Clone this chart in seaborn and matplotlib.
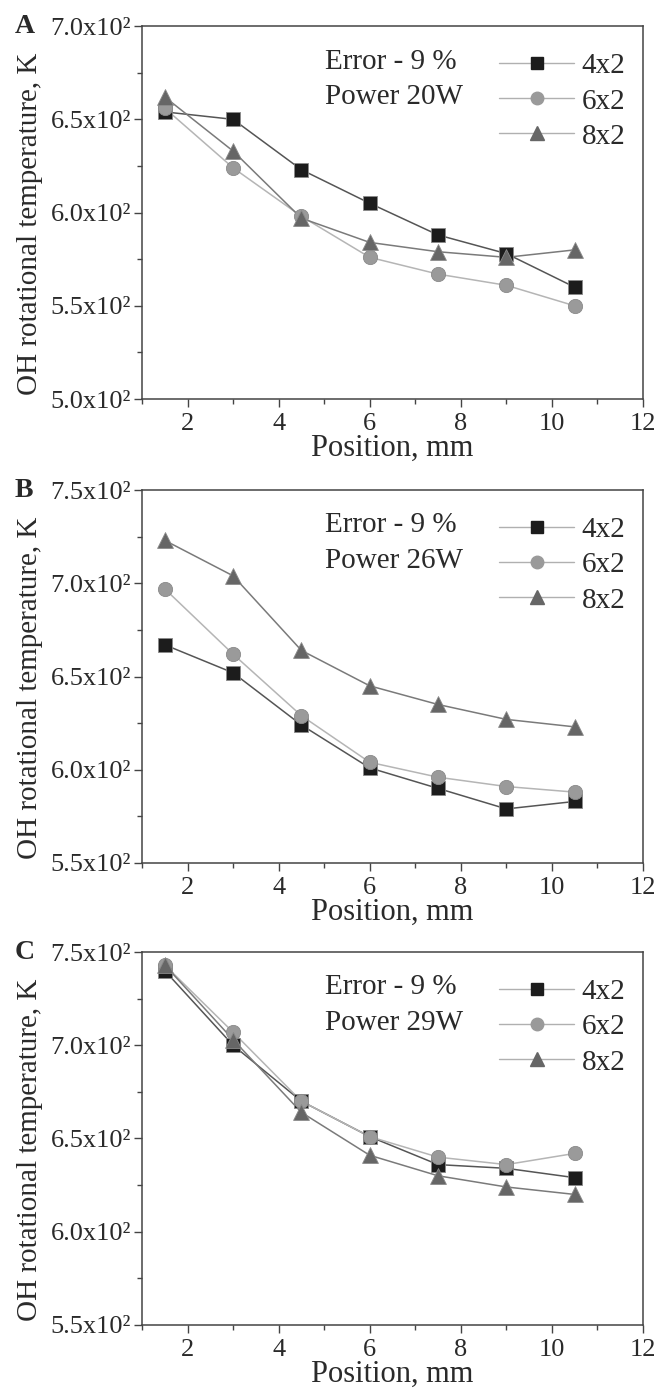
import matplotlib
matplotlib.use("Agg")
import matplotlib.pyplot as plt
from matplotlib.ticker import FuncFormatter, MultipleLocator
import seaborn as sns
import pandas as pd

positions = [1.5, 3.0, 4.5, 6.0, 7.5, 9.0, 10.5]
series_names = ["4x2", "6x2", "8x2"]

# panel A, power 20 W
temp_a_4x2 = [654, 650, 623, 605, 588, 578, 560]
temp_a_6x2 = [656, 624, 598, 576, 567, 561, 550]
temp_a_8x2 = [662, 633, 597, 584, 579, 576, 580]

# panel B, power 26 W
temp_b_4x2 = [667, 652, 624, 601, 590, 579, 583]
temp_b_6x2 = [697, 662, 629, 604, 596, 591, 588]
temp_b_8x2 = [723, 704, 664, 645, 635, 627, 623]

# panel C, power 29 W
temp_c_4x2 = [740, 700, 670, 651, 636, 634, 629]
temp_c_6x2 = [743, 707, 670, 651, 640, 636, 642]
temp_c_8x2 = [743, 703, 664, 641, 630, 624, 620]

panel_letters = ["A", "B", "C"]
panel_powers = ["Power 20W", "Power 26W", "Power 29W"]
panel_ylims = [(500, 700), (550, 750), (550, 750)]
panel_data = [
    [temp_a_4x2, temp_a_6x2, temp_a_8x2],
    [temp_b_4x2, temp_b_6x2, temp_b_8x2],
    [temp_c_4x2, temp_c_6x2, temp_c_8x2],
]

sns.set_style("ticks")
plt.rcParams["font.family"] = ["Liberation Serif", "DejaVu Serif"]
plt.rcParams["axes.edgecolor"] = "#444444"
plt.rcParams["xtick.color"] = "#444444"
plt.rcParams["ytick.color"] = "#444444"
plt.rcParams["xtick.labelcolor"] = "#2a2a2a"
plt.rcParams["ytick.labelcolor"] = "#2a2a2a"

marker_fill = {"4x2": "#1c1c1c", "6x2": "#9a9a9a", "8x2": "#666666"}
line_color = {"4x2": "#555555", "6x2": "#b5b5b5", "8x2": "#7a7a7a"}
marker_shape = {"4x2": "s", "6x2": "o", "8x2": "^"}
text_color = "#2a2a2a"

fig = plt.figure(figsize=(6.57, 13.89), dpi=100)
bottoms = [0.7127, 0.3787, 0.0461]


def fmt_y(v, pos):
    return f"{v / 100:.1f}x10\u00b2"


for i in range(3):
    ax = fig.add_axes([0.2161, bottoms[i], 0.7626, 0.2685])
    rows = []
    for name, vals in zip(series_names, panel_data[i]):
        for x, y in zip(positions, vals):
            rows.append({"Position": x, "Temp": y, "Series": name})
    df = pd.DataFrame(rows)

    # lines first, then markers on top
    sns.lineplot(data=df, x="Position", y="Temp", hue="Series",
                 palette=line_color, linewidth=1.1, legend=False, ax=ax)
    for name in series_names:
        sub = df[df["Series"] == name]
        sns.scatterplot(data=sub, x="Position", y="Temp", marker=marker_shape[name],
                        color=marker_fill[name], edgecolor="#8a8a8a", linewidth=0.6,
                        s=130 if name == "8x2" else 105, ax=ax, zorder=3)

    ax.set_xlim(1, 12)
    ax.set_ylim(*panel_ylims[i])
    ax.xaxis.set_major_locator(MultipleLocator(2))
    ax.xaxis.set_minor_locator(MultipleLocator(1))
    ax.yaxis.set_major_locator(MultipleLocator(50))
    ax.yaxis.set_minor_locator(MultipleLocator(25))
    ax.yaxis.set_major_formatter(FuncFormatter(fmt_y))
    ax.tick_params(which="major", length=6, width=1, labelsize=19, pad=2)
    ax.tick_params(axis="x", which="major", pad=4)
    ax.tick_params(which="minor", length=3.5, width=1)
    for sp in ax.spines.values():
        sp.set_linewidth(1.1)

    ax.set_xlabel("Position, mm", fontsize=22, labelpad=-1, color=text_color)
    ax.set_ylabel("OH rotational temperature, K", fontsize=21, color=text_color)
    ax.yaxis.set_label_coords(-0.198, 0.47)

    ax.text(0.365, 0.905, "Error - 9 %", transform=ax.transAxes, fontsize=21,
            color=text_color, va="center")
    ax.text(0.365, 0.81, panel_powers[i], transform=ax.transAxes, fontsize=21,
            color=text_color, va="center")

    # legend handles
    handles = [
        plt.Line2D([], [], color="#b0b0b0", linewidth=1, marker=marker_shape[n],
                   markerfacecolor=marker_fill[n], markeredgecolor=marker_fill[n],
                   markersize=10 if n == "8x2" else 9)
        for n in series_names
    ]
    leg = ax.legend(handles, series_names, loc="upper right", bbox_to_anchor=(1.0, 0.975),
                    frameon=False, fontsize=21, handlelength=2.6, handletextpad=0.25,
                    labelspacing=0.3, borderaxespad=0.2)
    for t in leg.get_texts():
        t.set_color(text_color)

    fig.text(0.022, bottoms[i] + 0.2685, panel_letters[i], fontsize=20,
             fontweight="bold", va="center", ha="left", color=text_color)

fig.savefig("out.png", dpi=100)
